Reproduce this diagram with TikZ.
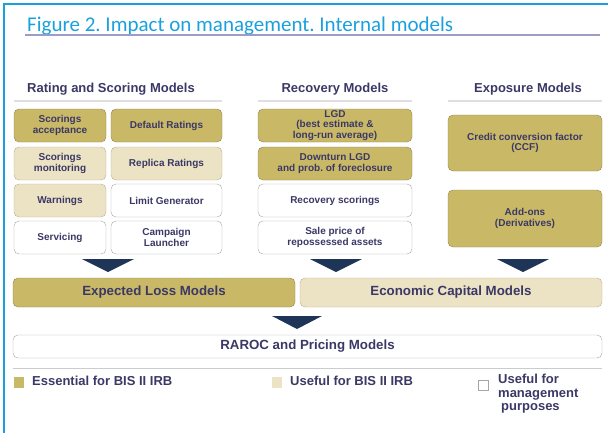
\documentclass[tikz,border=0pt]{standalone}
\usepackage{fontspec}
\setmainfont{Liberation Sans}
\newfontfamily\titlefont{Carlito}
\definecolor{framecyan}{HTML}{1BA0DE}
\definecolor{inkblue}{HTML}{3B3866}
\definecolor{olive}{HTML}{C9B966}
\definecolor{olivedark}{HTML}{8C8256}
\definecolor{cream}{HTML}{EBE3C4}
\definecolor{creamdark}{HTML}{B7AE90}
\definecolor{navy}{HTML}{1F3558}
\tikzset{
  box/.style={draw, rounded corners=5pt, inner sep=1pt, align=center,
    text=inkblue, font=\fontsize{10}{10.8}\selectfont\bfseries},
  essential/.style={box, fill=olive, draw=olivedark},
  useful/.style={box, fill=cream, draw=creamdark},
  mgmt/.style={box, fill=white, draw=gray!70},
  hdr/.style={text=inkblue, font=\fontsize{13}{14}\selectfont\bfseries},
  bigbox/.style={font=\fontsize{13.3}{14}\selectfont\bfseries},
  legend/.style={text=inkblue, align=left, anchor=north west, inner sep=0pt,
    font=\fontsize{13}{13.5}\selectfont\bfseries},
}
\begin{document}
\frenchspacing
\begin{tikzpicture}[x=1pt, y=-1pt]
  \useasboundingbox (0,0) rectangle (608,432);
  \draw[framecyan, line width=1.5pt] (4,436) -- (4,4) -- (612,4);

  % title
  \node[anchor=base west, inner sep=0pt, text=framecyan,
    font=\titlefont\fontsize{21}{23}\selectfont] (title) at (27,31)
    {Figure 2. Impact on management. Internal models};
  \draw[gray!70!blue!60, line width=1.2pt] (25,35) -- (600,35);

  % column headers
  \node[hdr] (hRating) at (111,89) {Rating and Scoring Models};
  \node[hdr] (hRecovery) at (335,89) {Recovery Models};
  \node[hdr] (hExposure) at (528,89) {Exposure Models};
  \draw[gray!25, line width=2pt] (14,101) -- (222,101);
  \draw[gray!25, line width=2pt] (258,101) -- (412,101);
  \draw[gray!25, line width=2pt] (448,101) -- (602,101);

  % rating and scoring
  \node[essential, minimum width=92pt, minimum height=33pt] (R1) at (60,125.5) {Scorings\\acceptance};
  \node[essential, minimum width=111pt, minimum height=33pt] (R2) at (166.5,125.5) {Default Ratings};
  \node[useful, minimum width=92pt, minimum height=33pt] (R3) at (60,163.5) {Scorings\\monitoring};
  \node[useful, minimum width=111pt, minimum height=33pt] (R4) at (166.5,163.5) {Replica Ratings};
  \node[useful, minimum width=92pt, minimum height=33pt] (R5) at (60,200.5) {Warnings};
  \node[mgmt, minimum width=111pt, minimum height=33pt] (R6) at (166.5,200.5) {Limit Generator};
  \node[mgmt, minimum width=92pt, minimum height=33pt] (R7) at (60,237.5) {Servicing};
  \node[mgmt, minimum width=111pt, minimum height=33pt] (R8) at (166.5,237.5) {Campaign\\Launcher};

  % recovery
  \node[essential, minimum width=154pt, minimum height=33pt] (V1) at (335,125.5) {LGD\\(best estimate \&\\long-run average)};
  \node[essential, minimum width=154pt, minimum height=33pt] (V2) at (335,163.5) {Downturn LGD\\and prob. of foreclosure};
  \node[mgmt, minimum width=154pt, minimum height=33pt] (V3) at (335,200.5) {Recovery scorings};
  \node[mgmt, minimum width=154pt, minimum height=33pt] (V4) at (335,237.5) {Sale price of\\repossessed assets};

  % exposure
  \node[essential, minimum width=154pt, minimum height=56pt] (E1) at (525,143) {Credit conversion factor\\(CCF)};
  \node[essential, minimum width=154pt, minimum height=57pt] (E2) at (525,218.5) {Add-ons\\(Derivatives)};

  \fill[navy] (82,259) -- (134,259) -- (108,272) -- cycle;
  \fill[navy] (310,259) -- (362,259) -- (336,272) -- cycle;
  \fill[navy] (497,259) -- (549,259) -- (523,272) -- cycle;

  \node[essential, bigbox, minimum width=282pt, minimum height=29pt] (EL) at (154,292.5) {Expected Loss Models};
  \node[useful, bigbox, minimum width=302pt, minimum height=29pt] (EC) at (451,292.5) {Economic Capital Models};

  \fill[navy] (272,316) -- (322,316) -- (297,329) -- cycle;

  \node[mgmt, bigbox, minimum width=589pt, minimum height=23pt] (RAROC) at (307.5,346.5) {RAROC and Pricing Models};

  % legend
  \draw[gray!40, line width=1pt] (13,368) -- (602,368);
  \fill[olive] (14,377) rectangle (24,388);
  \node[legend] (lEss) at (32,376) {Essential for BIS II IRB};
  \fill[cream] (272,377) rectangle (282,388);
  \node[legend] (lUse) at (290,376) {Useful for BIS II IRB};
  \draw[gray!70, fill=white] (478,380) rectangle (488,390);
  \node[legend] (lMgmt) at (498,374) {Useful for\\management\\\hspace{3pt}purposes};
\end{tikzpicture}
\end{document}
